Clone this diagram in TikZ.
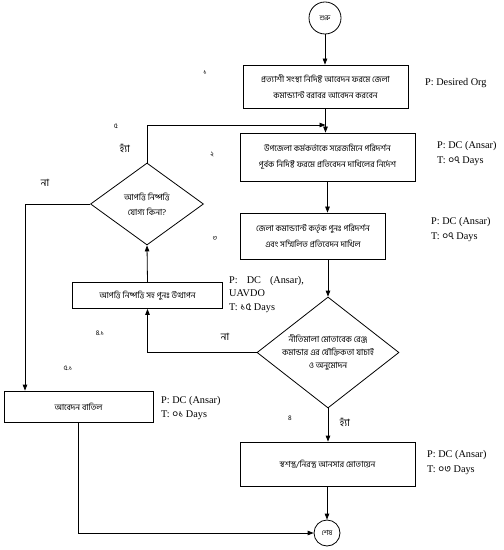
\documentclass[tikz,border=0pt]{standalone}
\usepackage{fontspec}
\setmainfont{Liberation Serif}
\newfontfamily\bnfont[Script=Bengali]{Hind Siliguri}
\usetikzlibrary{shapes.geometric,arrows.meta}
\tikzset{
  boxnode/.style={draw, rectangle, line width=0.8bp, inner sep=2bp, align=center,
     font=\bnfont\fontsize{8.4}{15.5}\selectfont},
  decnode/.style={draw, diamond, line width=0.8bp, inner sep=0bp},
  dectext/.style={align=center, font=\bnfont\fontsize{8.5}{15}\selectfont},
  termnode/.style={draw, circle, line width=0.8bp, inner sep=0bp, font=\bnfont\fontsize{7}{8}\selectfont},
  infonode/.style={anchor=west, align=left, inner sep=0bp, font=\fontsize{10.3}{14.5}\selectfont},
  numlabel/.style={inner sep=0bp, font=\bnfont\fontsize{7}{8}\selectfont},
  anslabel/.style={inner sep=0bp, font=\bnfont\fontsize{10}{11}\selectfont},
  arr/.style={line width=0.8bp, -{Triangle[length=6bp,width=4.5bp]}},
  conn/.style={line width=0.8bp}
}
\begin{document}
\begin{tikzpicture}[x=1bp,y=-1bp]
\useasboundingbox (0,0) rectangle (504,550);
% nodes
\node[termnode, minimum size=32bp] (start) at (325,18) {শুরু};
\node[boxnode, minimum width=165bp, minimum height=43bp] (b1) at (325.5,86.5)
  {প্রত্যাশী সংস্থা নিদিষ্ট আবেদন ফরমে জেলা\\কমান্ড্যান্ট বরাবর আবেদন করবেন};
\node[boxnode, minimum width=175bp, minimum height=48bp] (b2) at (327.5,157)
  {উপজেলা কর্মকর্তাকে সরেজমিনে পরিদর্শন\\পূর্বক নিদিষ্ট ফরমে প্রতিবেদন দাখিলের নির্দেশ};
\node[boxnode, minimum width=145bp, minimum height=46bp] (b3) at (313,236)
  {জেলা কমান্ড্যান্ট কর্তৃক পুনঃ পরিদর্শন\\এবং সম্মিলিত প্রতিবেদন দাখিল};
\node[decnode, minimum width=113bp, minimum height=82bp] (d1) at (147,204) {};
\node[dectext] (d1t) at (d1.center) {আপত্তি নিষ্পত্তি\\যোগ্য কিনা?};
\node[boxnode, minimum width=150bp, minimum height=26bp] (b41) at (147.5,295.5)
  {আপত্তি নিষ্পত্তি সহ পুনঃ উত্থাপন};
\node[decnode, minimum width=142bp, minimum height=111bp] (d2) at (328,352.5) {};
\node[dectext, font=\bnfont\fontsize{8.5}{13.5}\selectfont] (d2t) at (d2.center)
  {নীতিমালা মোতাবেক রেঞ্জ\\কমান্ডার এর যৌক্তিকতা যাচাই\\ও অনুমোদন};
\node[boxnode, minimum width=149bp, minimum height=31bp] (bc) at (78.5,406.5) {আবেদন বাতিল};
\node[boxnode, minimum width=175bp, minimum height=44bp] (b4) at (327.5,464)
  {স্বশস্ত্র/নিরস্ত্র আনসার মোতায়েন};
\node[termnode, minimum size=26bp] (end) at (327,533) {শেষ};
% info texts
\node[infonode] (i1) at (425,83) {P: Desired Org};
\node[infonode] (i2) at (437,153.5) {P: DC (Ansar)\\T: {\bnfont ০৭} Days};
\node[infonode] (i3) at (431,229.5) {P: DC (Ansar)\\T: {\bnfont ০৭} Days};
\node[infonode, font=\fontsize{10.3}{13.5}\selectfont] (i41) at (229,294.5)
  {P:\hspace{9bp}DC\hspace{9bp}(Ansar),\\UAVDO\\T: {\bnfont ১৫} Days};
\node[infonode] (ic) at (161,408) {P: DC (Ansar)\\T: {\bnfont ০১} Days};
\node[infonode] (i4) at (427,462.5) {P: DC (Ansar)\\T: {\bnfont ০৩} Days};
% step numbers
\node[numlabel] (n1) at (205,73) {১};
\node[numlabel] (n2) at (212,155) {২};
\node[numlabel] (n3) at (215,238) {৩};
\node[numlabel] (n41) at (100,333) {৪.১};
\node[numlabel] (n4) at (290,418) {৪};
\node[numlabel] (n5) at (116,126) {৫};
\node[numlabel] (n51) at (68,368) {৫.১};
% answer labels
\node[anslabel] (y1) at (125,148) {হ্যাঁ};
\node[anslabel] (no1) at (45,183) {না};
\node[anslabel] (no2) at (225,337) {না};
\node[anslabel] (y2) at (345,422) {হ্যাঁ};
% connectors
\coordinate (loopj) at (325.5,125);
\coordinate (lc) at (25,204);
\draw[arr] (start.south) -- (start.south |- b1.north);
\draw[arr] (b1.south) -- (b1.south |- b2.north);
\draw[arr] (d1.north) |- (loopj);
\draw[arr] (b2.south) -- (b2.south |- b3.north);
\draw[arr] (d2.north |- b3.south) -- (d2.north);
\draw[arr] (d2.west) -| (b41.south);
\draw[arr] (b41.north) -- (d1.south);
\draw[arr] (d1.west) -- (lc) -- (lc |- bc.north);
\draw[arr] (d2.south) -- (d2.south |- b4.north);
\draw[arr] (bc.south) |- (end.west);
\draw[arr] (b4.south -| end.north) -- (end.north);
\end{tikzpicture}
\end{document}
